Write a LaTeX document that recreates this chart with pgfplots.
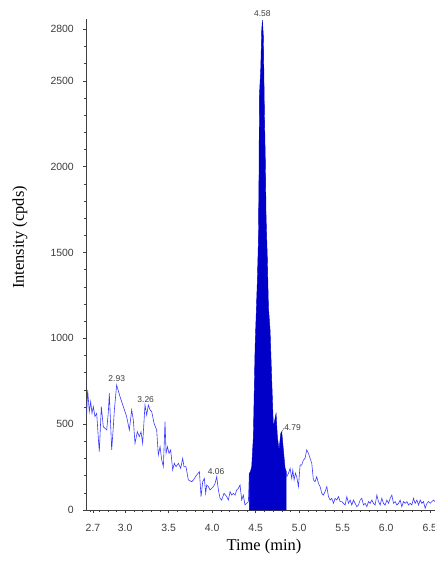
\documentclass[border=0pt]{standalone}
\usepackage{fontspec}
\setmainfont{Liberation Serif}
\newfontfamily\arial{Liberation Sans}
\usepackage{pgfplots}
\pgfplotsset{compat=1.18}

\definecolor{traceblue}{RGB}{60,60,255}
\definecolor{peakblue}{RGB}{0,0,200}
\definecolor{ticktext}{RGB}{60,60,60}

\begin{document}
\begin{tikzpicture}
\begin{axis}[
    scale only axis,
    width=349bp, height=491bp,
    xmin=2.55, xmax=6.56,
    ymin=0, ymax=2860,
    axis lines=left,
    axis line style={-, draw=black!75, line width=0.6bp},
    tick style={draw=black!75, line width=0.5bp},
    tick align=outside,
    major tick length=3bp,
    minor tick length=2bp,
    xtick={2.63,3.0,3.5,4.0,4.5,5.0,5.5,6.0,6.5},
    xticklabels={2.7,3.0,3.5,4.0,4.5,5.0,5.5,6.0,6.5},
    minor xtick={2.6,2.7,...,6.55},
    ytick={0,500,1000,1500,2000,2500,2800},
    yticklabels={0,500,1000,1500,2000,2500,2800},
    minor ytick={100,200,...,2800},
    /pgf/number format/assume math mode=true,
    tick label style={font=\arial\fontsize{10.5}{11}\selectfont, text=ticktext},
    xticklabel style={anchor=center, inner sep=0pt, yshift=-15bp},
    yticklabel style={anchor=east, inner sep=0pt, xshift=-9bp},
    xlabel={Time (min)},
    ylabel={Intensity (cpds)},
    label style={font=\fontsize{16.5}{17}\selectfont},
    xlabel style={at={(rel axis cs:0.51,0)}, anchor=center, yshift=-37bp},
    ylabel style={at={(rel axis cs:0,0.555)}, anchor=center, yshift=66bp},
    clip mode=individual,
]

% baseline trace before the peak
\addplot[traceblue, line width=0.6bp] coordinates {
(2.558,563) (2.569,699) (2.588,573) (2.604,631) (2.619,563) (2.634,602)
(2.653,544) (2.673,563) (2.692,417) (2.703,340) (2.726,602) (2.749,485)
(2.768,476) (2.788,466) (2.807,573) (2.818,680) (2.834,485) (2.845,350)
(2.864,485) (2.876,583) (2.902,728) (2.941,660) (2.979,602) (3.017,544)
(3.048,466) (3.075,583) (3.094,524) (3.113,388) (3.140,456) (3.163,427)
(3.182,456) (3.201,388) (3.228,612) (3.247,553) (3.266,612) (3.286,583)
(3.305,573) (3.332,505) (3.362,466) (3.381,320) (3.401,369) (3.420,291)
(3.439,252) (3.458,515) (3.470,330) (3.485,369) (3.504,330) (3.523,350)
(3.546,233) (3.565,272) (3.584,252) (3.611,272) (3.638,243) (3.661,301)
(3.676,252) (3.699,252) (3.726,175) (3.765,165) (3.784,175) (3.822,204)
(3.853,223) (3.872,78) (3.891,165) (3.910,184) (3.925,97) (3.937,146)
(3.956,136) (3.975,117) (3.994,126) (4.014,136) (4.033,155) (4.052,194)
(4.071,117) (4.090,68) (4.109,58) (4.136,97) (4.167,78) (4.186,58)
(4.205,107) (4.224,87) (4.243,97) (4.263,87) (4.282,117) (4.301,126)
(4.320,146) (4.339,58) (4.358,87) (4.377,29) (4.397,39) (4.416,49)
(4.427,216)
};

% integrated peak
\addplot[draw=peakblue, fill=peakblue, line width=0.4bp] coordinates {
(4.427,0) (4.427,216) (4.435,216) (4.454,252) (4.473,427) (4.493,951)
(4.519,1340) (4.531,1573) (4.539,2020) (4.542,2405) (4.558,2574)
(4.569,2796) (4.577,2854) (4.588,2757) (4.600,2312) (4.611,2020)
(4.619,1708) (4.634,1456) (4.646,1184) (4.665,1048) (4.684,757)
(4.703,485) (4.734,563) (4.749,427) (4.768,350) (4.788,447) (4.799,456)
(4.818,350) (4.837,245) (4.849,227) (4.849,0)
} \closedcycle;

% baseline trace after the peak
\addplot[traceblue, line width=0.6bp] coordinates {
(4.849,227) (4.857,194) (4.876,214) (4.895,243) (4.914,184) (4.926,233)
(4.941,175) (4.956,214) (4.971,194) (4.991,136) (5.010,262) (5.029,262)
(5.048,291) (5.067,301) (5.086,350) (5.106,330) (5.125,301) (5.144,272)
(5.163,175) (5.182,165) (5.201,194) (5.221,155) (5.240,136) (5.259,97)
(5.278,87) (5.297,107) (5.317,136) (5.336,78) (5.355,58) (5.374,68)
(5.393,39) (5.412,68) (5.432,58) (5.451,78) (5.470,49) (5.489,49)
(5.508,39) (5.527,29) (5.547,78) (5.566,39) (5.585,58) (5.604,29)
(5.623,58) (5.642,39) (5.662,19) (5.681,29) (5.700,58) (5.719,68)
(5.738,29) (5.757,39) (5.777,19) (5.796,49) (5.815,39) (5.834,58)
(5.853,39) (5.872,29) (5.892,87) (5.911,49) (5.930,29) (5.949,68)
(5.968,39) (5.987,29) (6.007,58) (6.026,39) (6.045,68) (6.064,87)
(6.083,39) (6.102,49) (6.122,29) (6.141,39) (6.160,58) (6.179,19)
(6.198,49) (6.217,39) (6.237,49) (6.256,29) (6.275,39) (6.294,29)
(6.313,68) (6.332,39) (6.352,58) (6.371,29) (6.390,58) (6.409,39)
(6.428,49) (6.447,10) (6.467,39) (6.486,49) (6.505,39) (6.524,49)
(6.543,58) (6.560,49)
};

% peak labels
\begin{scope}[every node/.style={font=\arial\fontsize{8.5}{9}\selectfont, text=ticktext, inner sep=0pt}]
\node at (axis cs:2.903,763) {2.93};
\node at (axis cs:3.236,646) {3.26};
\node at (axis cs:4.044,223) {4.06};
\node at (axis cs:4.577,2889) {4.58};
\node[anchor=west] at (axis cs:4.826,478) {4.79};
\end{scope}
\draw[black!60, line width=0.4bp] (axis cs:4.800,456) -- (axis cs:4.826,478);
\end{axis}
\pgfresetboundingbox
\path (-86bp,-51bp) rectangle (349bp,510bp);
\end{tikzpicture}
\end{document}
